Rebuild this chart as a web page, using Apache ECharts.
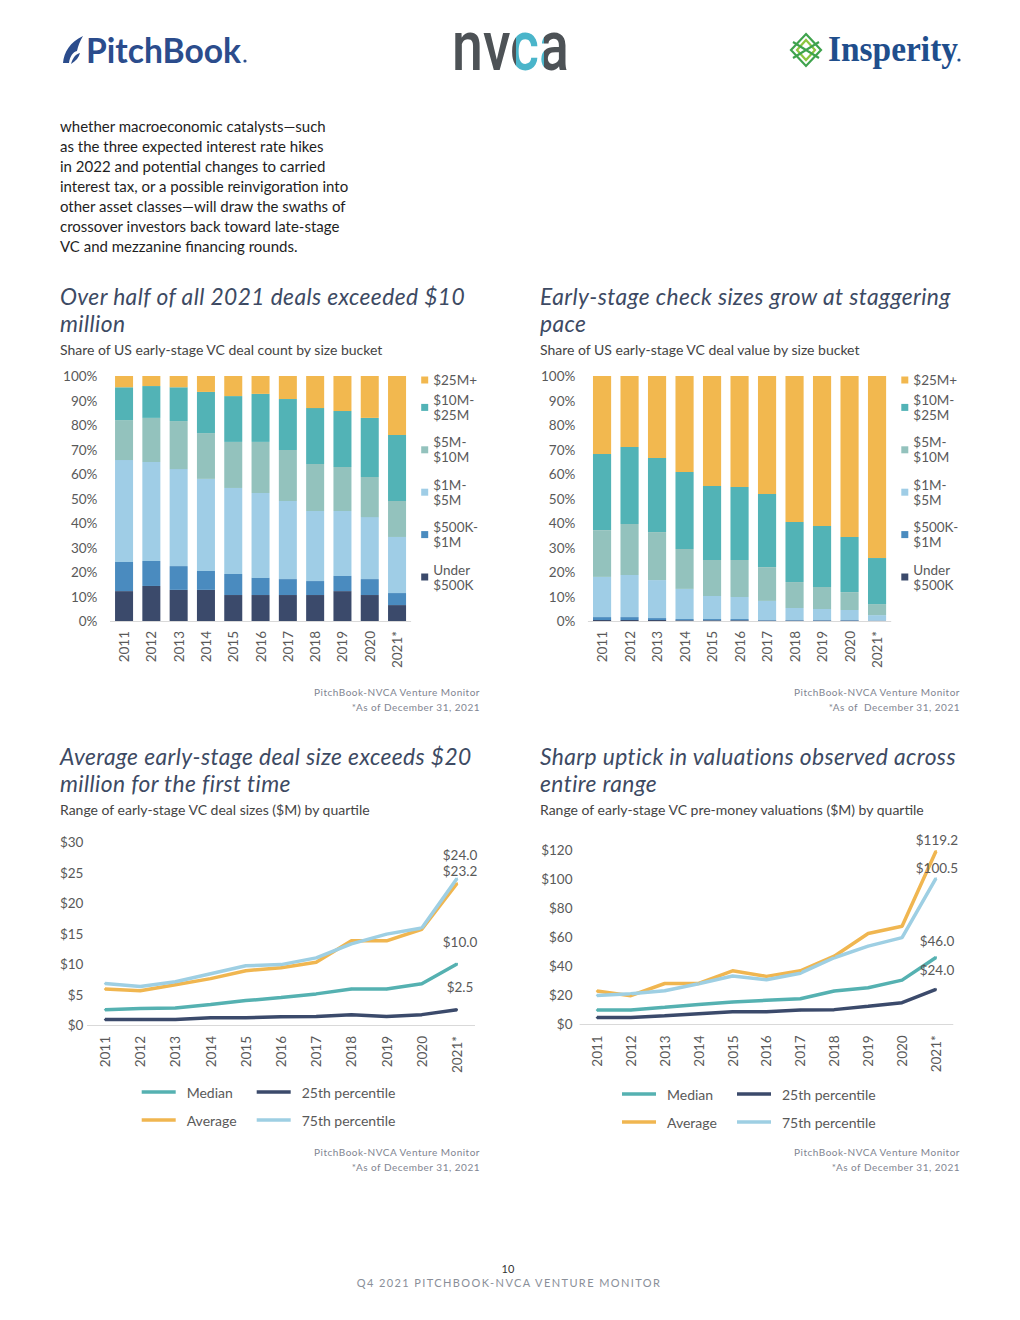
<!DOCTYPE html>
<html><head><meta charset="utf-8">
<script src="https://cdn.jsdelivr.net/npm/echarts@6/dist/echarts.min.js"></script>
<style>
html,body{margin:0;padding:0;background:#fff;}
body{width:1020px;height:1320px;position:relative;overflow:hidden;font-family:Lato,'Noto Sans',sans-serif;}
.t{position:absolute;white-space:nowrap;line-height:1;}
.para{left:60px;top:116px;font-size:15px;line-height:20px;color:#1e1e1e;}
.title{font-style:italic;font-size:22.8px;line-height:27.4px;letter-spacing:0.4px;color:#3d4a63;}
.sub{font-size:14px;color:#444;}
.src{font-size:10px;line-height:15px;color:#7f8591;letter-spacing:0.5px;text-align:right;width:300px;}
.chart{position:absolute;}
</style></head>
<body>
<svg class="t" style="left:0;top:0" width="1020" height="100">
  <defs>
    <linearGradient id="nvcaFill" gradientUnits="userSpaceOnUse" x1="452" y1="0" x2="570" y2="0">
      <stop offset="0" stop-color="#4d5256"/>
      <stop offset="0.54" stop-color="#4d5256"/>
      <stop offset="0.54" stop-color="#4ab5ca"/>
      <stop offset="0.78" stop-color="#4ab5ca"/>
      <stop offset="0.78" stop-color="#4d5256"/>
      <stop offset="1" stop-color="#4d5256"/>
    </linearGradient>
  </defs>
  <path d="M63,63 C64,52 70,42 83,36 C80,41 78,46 77,51 C73,52 70,56 69,63 Z" fill="#2b4c8c"/>
  <path d="M71,64 C73,57 76,54 80,53 C79,57 76,61 71,64 Z" fill="#2b4c8c"/>
  <text x="86" y="63" font-family="Lato" font-weight="700" font-size="34" fill="#2b4c8c" textLength="155" lengthAdjust="spacingAndGlyphs">PitchBook</text>
  <circle cx="245" cy="61" r="1.6" fill="#2b4c8c"/>
  <text x="452" y="70" font-family="Roboto" font-weight="500" font-size="70" fill="url(#nvcaFill)" textLength="117" lengthAdjust="spacingAndGlyphs">nvca</text>
  <g fill="none" stroke-width="2.2">
    <path d="M806,34 L821,50 L806,66 L791,50 Z" stroke="#3fa34d"/>
    <path d="M806,40 L815,50 L806,60 L797,50 Z" stroke="#8cc63f"/>
    <path d="M793,42 L819,58 M793,58 L819,42" stroke="#3fa34d"/>
  </g>
  <text x="828" y="61" font-family="Liberation Serif" font-weight="700" font-size="36" fill="#1f4e8c" textLength="130" lengthAdjust="spacingAndGlyphs">Insperity</text>
  <circle cx="959" cy="60" r="1.6" fill="#1f4e8c"/>
</svg>

<div class="t para">whether macroeconomic catalysts—such<br>as the three expected interest rate hikes<br>in 2022 and potential changes to carried<br>interest tax, or a possible reinvigoration into<br>other asset classes—will draw the swaths of<br>crossover investors back toward late-stage<br>VC and mezzanine financing rounds.</div>

<div class="t title" style="left:60px;top:282.5px">Over half of all 2021 deals exceeded $10<br>million</div>
<div class="t sub" style="left:60px;top:343px">Share of US early-stage VC deal count by size bucket</div>
<div class="t title" style="left:540px;top:282.5px">Early-stage check sizes grow at staggering<br>pace</div>
<div class="t sub" style="left:540px;top:343px">Share of US early-stage VC deal value by size bucket</div>

<div class="t title" style="left:60px;top:742.5px">Average early-stage deal size exceeds $20<br>million for the first time</div>
<div class="t sub" style="left:60px;top:803px">Range of early-stage VC deal sizes ($M) by quartile</div>
<div class="t title" style="left:540px;top:742.5px">Sharp uptick in valuations observed across<br>entire range</div>
<div class="t sub" style="left:540px;top:803px">Range of early-stage VC pre-money valuations ($M) by quartile</div>

<div id="c1" class="chart" style="left:50px;top:365px;width:450px;height:320px"></div>
<div id="c2" class="chart" style="left:530px;top:365px;width:450px;height:320px"></div>
<div id="c3" class="chart" style="left:50px;top:830px;width:450px;height:300px"></div>
<div id="c4" class="chart" style="left:530px;top:830px;width:450px;height:300px"></div>

<div class="t src" style="left:180px;top:685px">PitchBook-NVCA Venture Monitor<br>*As of December 31, 2021</div>
<div class="t src" style="left:660px;top:685px">PitchBook-NVCA Venture Monitor<br>*As of&nbsp; December 31, 2021</div>
<div class="t src" style="left:180px;top:1145px">PitchBook-NVCA Venture Monitor<br>*As of December 31, 2021</div>
<div class="t src" style="left:660px;top:1145px">PitchBook-NVCA Venture Monitor<br>*As of December 31, 2021</div>

<div class="t" style="left:0;width:1016px;text-align:center;top:1263px;font-size:11px;color:#333;">10</div>
<div class="t" style="left:0;width:1018px;text-align:center;top:1277px;font-size:11px;color:#8a8f99;letter-spacing:1.4px;">Q4 2021 PITCHBOOK-NVCA VENTURE MONITOR</div>

<script>
// ---------- categories ----------
const years = ['2011','2012','2013','2014','2015','2016','2017','2018','2019','2020','2021*'];
const bucketNames = ['Under\n$500K', '$500K-\n$1M', '$1M-\n$5M', '$5M-\n$10M', '$10M-\n$25M', '$25M+'];
const percentTicks = ['0%','10%','20%','30%','40%','50%','60%','70%','80%','90%','100%'];

// ---------- chart 1: share of deal count (%) ----------
const countUnder500K = [12.2, 14.3, 12.7, 12.7, 10.6, 10.6, 10.6, 10.6, 12.2, 10.6, 6.5];
const count500Kto1M  = [11.9, 10.2, 9.7, 7.7, 8.6, 7.0, 6.5, 5.7, 6.2, 6.5, 4.9];
const count1Mto5M    = [41.6, 40.4, 39.6, 37.6, 35.1, 34.6, 31.9, 28.6, 26.5, 25.3, 22.9];
const count5Mto10M   = [16.3, 18.0, 19.6, 18.7, 18.8, 20.9, 20.8, 19.2, 18.0, 16.4, 14.7];
const count10Mto25M  = [13.4, 13.0, 13.8, 16.8, 18.7, 19.6, 20.8, 22.8, 22.8, 24.1, 26.9];
const count25MPlus   = [4.6, 4.1, 4.6, 6.5, 8.2, 7.3, 9.4, 13.1, 14.3, 17.1, 24.1];

// ---------- chart 2: share of deal value (%) ----------
const valueUnder500K = [0.4, 0.4, 0.4, 0.3, 0.3, 0.3, 0.2, 0.2, 0.2, 0.2, 0.1];
const value500Kto1M  = [1.2, 1.2, 0.8, 0.5, 0.5, 0.5, 0.2, 0.2, 0.2, 0.2, 0.1];
const value1Mto5M    = [16.4, 17.2, 15.5, 12.3, 9.4, 9.0, 7.8, 4.9, 4.5, 4.1, 2.2];
const value5Mto10M   = [19.1, 20.8, 19.6, 16.3, 14.7, 15.1, 13.8, 10.6, 9.0, 7.3, 4.5];
const value10Mto25M  = [31.1, 31.4, 30.2, 31.4, 30.2, 29.8, 29.8, 24.5, 24.9, 22.5, 18.8];
const value25MPlus   = [31.8, 29.0, 33.5, 39.2, 44.9, 45.3, 48.2, 59.6, 61.2, 65.7, 74.3];

// ---------- chart 3: deal sizes ($M) ----------
const dealMedian = [2.5, 2.7, 2.8, 3.35, 4.0, 4.5, 5.1, 5.9, 5.9, 6.75, 10.0];
const deal25th   = [0.9, 0.9, 0.9, 1.2, 1.2, 1.35, 1.4, 1.7, 1.4, 1.7, 2.5];
const dealAverage= [5.9, 5.6, 6.6, 7.6, 8.9, 9.4, 10.3, 13.8, 13.8, 15.7, 23.2];
const deal75th   = [6.8, 6.3, 7.1, 8.4, 9.7, 9.9, 11.0, 13.3, 14.9, 15.9, 24.0];

// ---------- chart 4: pre-money valuations ($M) ----------
const valMedian  = [9.8, 9.8, 11.7, 13.7, 15.3, 16.5, 17.6, 22.9, 25.2, 30.4, 46.0];
const val25th    = [4.6, 4.6, 5.9, 7.3, 8.7, 8.7, 9.8, 10.1, 12.4, 14.9, 24.0];
const valAverage = [22.9, 19.7, 28.1, 28.1, 36.8, 33.0, 36.8, 46.9, 62.5, 67.5, 119.2];
const val75th    = [19.9, 21.1, 23.1, 27.9, 33.2, 30.7, 35.2, 45.8, 53.8, 59.7, 100.5];

const lineNames = ['Median', '25th percentile', 'Average', '75th percentile'];

// ---------- styling ----------
const bucketColors = ['#3b4a6b', '#4a8bbf', '#9fcde6', '#93c2bd', '#52b3b6', '#f2b84f'];
const lineColors = ['#55b1b1', '#3b4a6b', '#f0b650', '#9ecfe3'];
const FONT = 'Lato';
const LABEL = '#595959';

function barOption(seriesData, gridLeft, gridWidth) {
  const legendOrder = bucketNames.slice().reverse();
  return {
    animation: false,
    textStyle: { fontFamily: FONT },
    grid: { left: gridLeft, top: 11, width: gridWidth, height: 245 },
    xAxis: {
      type: 'category', data: years,
      axisLine: { lineStyle: { color: '#d9d9d9', width: 1 } },
      axisTick: { show: false },
      axisLabel: { rotate: 90, margin: 10, fontSize: 13.5, color: LABEL, fontFamily: FONT }
    },
    yAxis: {
      type: 'value', min: 0, max: 100, interval: 10,
      axisLabel: { formatter: v => percentTicks[Math.round(v / 10)], margin: 13, fontSize: 13.5, color: LABEL, fontFamily: FONT },
      axisLine: { show: false }, axisTick: { show: false }, splitLine: { show: false }
    },
    legend: {
      orient: 'vertical', left: gridLeft + gridWidth + 10.5, top: 7.5, padding: 0,
      itemWidth: 7, itemHeight: 7, itemGap: -2.6, icon: 'rect', selectedMode: false,
      textStyle: { fontFamily: FONT, fontSize: 13.5, color: LABEL, lineHeight: 15 },
      data: legendOrder.map(n => ({ name: n, textStyle: { padding: n.indexOf('\n') >= 0 ? [15, 0, 0, 0] : 0 } }))
    },
    series: bucketNames.map((n, i) => ({
      name: n, type: 'bar', stack: 'share', barWidth: '66%',
      itemStyle: { color: bucketColors[i] },
      data: seriesData[i]
    }))
  };
}

function lineOption(seriesData, cfg) {
  return {
    animation: false,
    textStyle: { fontFamily: FONT },
    grid: { left: cfg.left, top: cfg.top, width: cfg.width, height: cfg.height },
    xAxis: {
      type: 'category', data: years,
      axisLine: { lineStyle: { color: '#d9d9d9', width: 1 } },
      axisTick: { show: false },
      axisLabel: { rotate: 90, margin: 11, fontSize: 13.5, color: LABEL, fontFamily: FONT }
    },
    yAxis: {
      type: 'value', min: 0, max: cfg.max, interval: cfg.interval,
      axisLabel: { formatter: v => '$' + v, margin: cfg.margin, fontSize: 13.5, color: LABEL, fontFamily: FONT },
      axisLine: { show: false }, axisTick: { show: false }, splitLine: { show: false }
    },
    legend: [
      { orient: 'vertical', left: cfg.legLeft, top: cfg.legTop, padding: 0, itemWidth: 34, itemHeight: 3.5, itemGap: 12,
        icon: 'rect', selectedMode: false, data: [lineNames[0], lineNames[2]],
        textStyle: { fontFamily: FONT, fontSize: 14, color: LABEL, lineHeight: 16, padding: [0, 0, 0, 6] } },
      { orient: 'vertical', left: cfg.legLeft + 115, top: cfg.legTop, padding: 0, itemWidth: 34, itemHeight: 3.5, itemGap: 12,
        icon: 'rect', selectedMode: false, data: [lineNames[1], lineNames[3]],
        textStyle: { fontFamily: FONT, fontSize: 14, color: LABEL, lineHeight: 16, padding: [0, 0, 0, 6] } }
    ],
    series: lineNames.map((n, i) => ({
      name: n, type: 'line', data: seriesData[i],
      symbol: 'circle', symbolSize: 2, showSymbol: true, showAllSymbol: true,
      lineStyle: { color: lineColors[i], width: 3.5 }, itemStyle: { color: lineColors[i] },
      label: {
        show: true, position: 'top', distance: cfg.labelDist[i], offset: [cfg.labelDx, 0],
        fontSize: 13.5, color: LABEL, fontFamily: FONT,
        formatter: p => p.dataIndex === years.length - 1 ? '$' + p.value.toFixed(1) : ''
      }
    }))
  };
}

const c1 = echarts.init(document.getElementById('c1'), null, { renderer: 'svg' });
c1.setOption(barOption([countUnder500K, count500Kto1M, count1Mto5M, count5Mto10M, count10Mto25M, count25MPlus], 60.4, 300.3));
const c2 = echarts.init(document.getElementById('c2'), null, { renderer: 'svg' });
c2.setOption(barOption([valueUnder500K, value500Kto1M, value1Mto5M, value5Mto10M, value10Mto25M, value25MPlus], 58.3, 302.5));

const c3 = echarts.init(document.getElementById('c3'), null, { renderer: 'svg' });
c3.setOption(lineOption([dealMedian, deal25th, dealAverage, deal75th], {
  left: 37.4, top: 12, width: 387.2, height: 183, max: 30, interval: 5, margin: 4,
  legLeft: 91.7, legTop: 254, labelDist: [14, 15, 4.6, 16], labelDx: 3
}));
const c4 = echarts.init(document.getElementById('c4'), null, { renderer: 'svg' });
c4.setOption(lineOption([valMedian, val25th, valAverage, val75th], {
  left: 50, top: 20, width: 372.9, height: 174.3, max: 120, interval: 20, margin: 7.5,
  legLeft: 92, legTop: 256, labelDist: [8.5, 11, 3, 2.6], labelDx: 1
}));
</script>
</body></html>
